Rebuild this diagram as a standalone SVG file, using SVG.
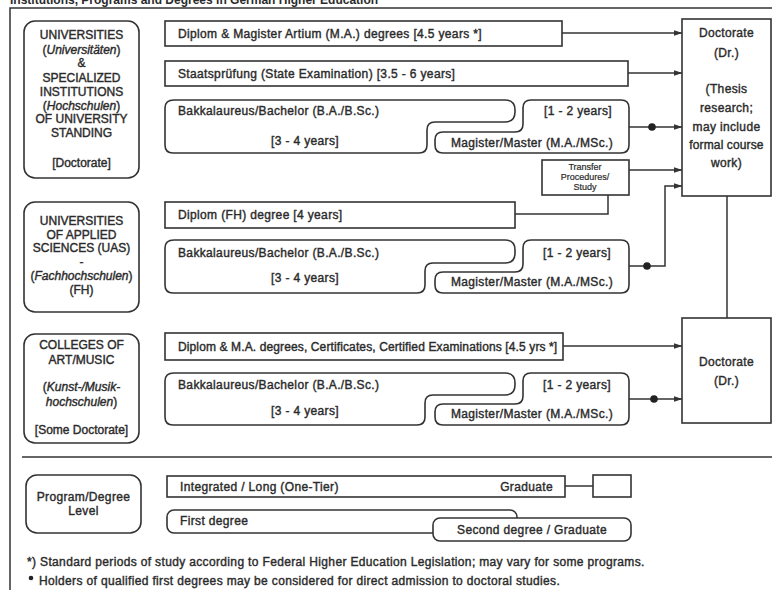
<svg xmlns="http://www.w3.org/2000/svg" width="772" height="590" viewBox="0 0 772 590">
<style>
text{font-family:"Liberation Sans",Arial,sans-serif;font-size:12px;letter-spacing:0.35px;fill:#2b2b2b;stroke:#2b2b2b;stroke-width:0.4}
.c{text-anchor:middle}
.e{text-anchor:end}
.i{font-style:italic}
.u{letter-spacing:0}
.n{letter-spacing:0.12px}
.s{font-size:9px;letter-spacing:0;stroke-width:0.2}
.t{font-size:12px;font-weight:bold;letter-spacing:0;stroke-width:0}
.box{fill:#fff;stroke:#333;stroke-width:1.6}
.ln{fill:none;stroke:#333;stroke-width:1.5}
.arr{fill:none;stroke:#333;stroke-width:1.5;marker-end:url(#ah)}
.dot{fill:#222}
</style>
<defs>
<marker id="ah" markerWidth="9" markerHeight="7" refX="8.5" refY="3.5" orient="auto" markerUnits="userSpaceOnUse">
<path d="M0,0.5 L9,3.5 L0,6.5 Z" fill="#333"/>
</marker>
</defs>
<rect x="0" y="0" width="772" height="590" fill="#fff"/>
<text class="t" x="10" y="4">Institutions, Programs and Degrees in German Higher Education</text>
<path class="ln" d="M10,590 V8 H772"/>
<line class="ln" x1="22" y1="457" x2="772" y2="457"/>

<g id="connectors">
<line class="arr" x1="562" y1="33" x2="682" y2="33"/>
<line class="arr" x1="628" y1="73" x2="682" y2="73"/>
<line class="arr" x1="629" y1="127" x2="682" y2="127"/>
<circle class="dot" cx="652" cy="127" r="3.8"/>
<line class="arr" x1="629" y1="170" x2="682" y2="170"/>
<path class="ln" d="M608,195 V214 H515"/>
<path class="arr" d="M629,266 H665 V186 H682"/>
<circle class="dot" cx="647" cy="266" r="3.8"/>
<line class="ln" x1="727" y1="196" x2="727" y2="318"/>
<line class="arr" x1="563" y1="346" x2="682" y2="346"/>
<line class="arr" x1="629" y1="399" x2="682" y2="399"/>
<circle class="dot" cx="654" cy="399" r="3.8"/>
<line class="ln" x1="565" y1="486" x2="593" y2="486"/>
</g>

<g id="inst-universities">
<rect class="box" x="24" y="21" width="115" height="157" rx="11"/>
<text class="c u" x="81.5" y="39">UNIVERSITIES</text>
<text class="c u" x="81.5" y="54">(<tspan class="i">Universitäten</tspan>)</text>
<text class="c u" x="81.5" y="67">&amp;</text>
<text class="c u" x="81.5" y="82">SPECIALIZED</text>
<text class="c u" x="81.5" y="96">INSTITUTIONS</text>
<text class="c u" x="81.5" y="110">(<tspan class="i">Hochschulen</tspan>)</text>
<text class="c u" x="81.5" y="123">OF UNIVERSITY</text>
<text class="c u" x="81.5" y="137">STANDING</text>
<text class="c u" x="81.5" y="167">[Doctorate]</text>
</g>

<g id="diplom-ma">
<rect class="box" x="165" y="21" width="397" height="25"/>
<text x="178" y="38">Diplom &amp; Magister Artium (M.A.) degrees [4.5 years *]</text>
</g>
<g id="staats">
<rect class="box" x="165" y="61" width="463" height="25"/>
<text x="178" y="78">Staatsprüfung (State Examination) [3.5 - 6 years]</text>
</g>
<g id="bachelor-1">
<path class="box" d="M174,100 H505 Q515,100 515,110 V112 Q515,122 505,122 H435 Q427,122 427,130 V145 Q427,153 419,153 H173 Q165,153 165,145 V108 Q165,100 174,100 Z"/>
<text x="178" y="115">Bakkalaureus/Bachelor (B.A./B.Sc.)</text>
<text class="c" x="305" y="145">[3 - 4 years]</text>
</g>
<g id="master-1">
<path class="box" d="M531,100 H621 Q629,100 629,108 V145 Q629,153 621,153 H443 Q435,153 435,145 V140 Q435,132 443,132 H515 Q523,132 523,124 V108 Q523,100 531,100 Z"/>
<text class="c" x="578" y="115">[1 - 2 years]</text>
<text class="c" x="532" y="147">Magister/Master (M.A./MSc.)</text>
</g>
<g id="transfer">
<rect class="box" x="542" y="160" width="87" height="35"/>
<text class="c s" x="585" y="170">Transfer</text>
<text class="c s" x="585" y="180">Procedures/</text>
<text class="c s" x="585" y="190">Study</text>
</g>
<g id="doctorate-1">
<rect class="box" x="682" y="19" width="89" height="177"/>
<text class="c" x="726.5" y="37">Doctorate</text>
<text class="c" x="726.5" y="57">(Dr.)</text>
<text class="c" x="726.5" y="93">(Thesis</text>
<text class="c" x="726.5" y="112">research;</text>
<text class="c" x="726.5" y="131">may include</text>
<text class="c n" x="726.5" y="149">formal course</text>
<text class="c" x="726.5" y="167">work)</text>
</g>

<g id="inst-uas">
<rect class="box" x="24" y="202" width="115" height="110" rx="11"/>
<text class="c u" x="81.5" y="225">UNIVERSITIES</text>
<text class="c u" x="81.5" y="239">OF APPLIED</text>
<text class="c u" x="81.5" y="252">SCIENCES (UAS)</text>
<text class="c u" x="81.5" y="266">-</text>
<text class="c u" x="81.5" y="280">(<tspan class="i">Fachhochschulen</tspan>)</text>
<text class="c u" x="81.5" y="294">(FH)</text>
</g>
<g id="diplom-fh">
<rect class="box" x="165" y="202" width="350" height="26"/>
<text x="178" y="219">Diplom (FH) degree [4 years]</text>
</g>
<g id="bachelor-2">
<path class="box" d="M174,240 H505 Q515,240 515,250 V253 Q515,263 505,263 H433 Q425,263 425,271 V285 Q425,293 417,293 H173 Q165,293 165,285 V248 Q165,240 174,240 Z"/>
<text x="178" y="257">Bakkalaureus/Bachelor (B.A./B.Sc.)</text>
<text class="c" x="305" y="282">[3 - 4 years]</text>
</g>
<g id="master-2">
<path class="box" d="M531,240 H621 Q629,240 629,248 V285 Q629,293 621,293 H443 Q435,293 435,285 V280 Q435,272 443,272 H515 Q523,272 523,264 V248 Q523,240 531,240 Z"/>
<text class="c" x="577" y="257">[1 - 2 years]</text>
<text class="c" x="532" y="286">Magister/Master (M.A./MSc.)</text>
</g>

<g id="inst-colleges">
<rect class="box" x="24" y="334" width="115" height="109" rx="11"/>
<text class="c u" x="81.5" y="349">COLLEGES OF</text>
<text class="c u" x="81.5" y="364">ART/MUSIC</text>
<text class="c u" x="81.5" y="391">(<tspan class="i">Kunst-/Musik-</tspan></text>
<text class="c u" x="81.5" y="406"><tspan class="i">hochschulen</tspan>)</text>
<text class="c u" x="81.5" y="434">[Some Doctorate]</text>
</g>
<g id="diplom-art">
<rect class="box" x="165" y="333" width="398" height="27"/>
<text class="n" x="178" y="351">Diplom &amp; M.A. degrees, Certificates, Certified Examinations [4.5 yrs *]</text>
</g>
<g id="bachelor-3">
<path class="box" d="M174,373 H505 Q515,373 515,383 V385 Q515,395 505,395 H433 Q425,395 425,403 V417 Q425,425 417,425 H173 Q165,425 165,417 V381 Q165,373 174,373 Z"/>
<text x="178" y="389">Bakkalaureus/Bachelor (B.A./B.Sc.)</text>
<text class="c" x="305" y="415">[3 - 4 years]</text>
</g>
<g id="master-3">
<path class="box" d="M531,373 H621 Q629,373 629,381 V417 Q629,425 621,425 H443 Q435,425 435,417 V412 Q435,404 443,404 H515 Q523,404 523,396 V381 Q523,373 531,373 Z"/>
<text class="c" x="577" y="389">[1 - 2 years]</text>
<text class="c" x="532" y="418">Magister/Master (M.A./MSc.)</text>
</g>
<g id="doctorate-2">
<rect class="box" x="682" y="318" width="89" height="105"/>
<text class="c" x="726.5" y="366">Doctorate</text>
<text class="c" x="726.5" y="385">(Dr.)</text>
</g>

<g id="legend-level">
<rect class="box" x="26" y="475" width="115" height="58" rx="11"/>
<text class="c" x="83.5" y="501">Program/Degree</text>
<text class="c" x="83.5" y="515">Level</text>
</g>
<g id="legend-integrated">
<rect class="box" x="167" y="476" width="398" height="21"/>
<text x="180" y="491">Integrated / Long (One-Tier)</text>
<text class="e" x="553" y="491">Graduate</text>
</g>
<g id="legend-doctorate">
<rect class="box" x="593" y="475" width="38" height="22"/>
</g>
<g id="legend-first">
<rect class="box" x="167" y="510" width="350" height="23" rx="7"/>
<text x="180" y="525">First degree</text>
</g>
<g id="legend-second">
<rect class="box" x="433" y="518" width="198" height="23" rx="7"/>
<text class="c" x="532" y="534">Second degree / Graduate</text>
</g>

<g id="footnotes">
<text x="27" y="566">*) Standard periods of study according to Federal Higher Education Legislation; may vary for some programs.</text>
<circle class="dot" cx="31" cy="578" r="2.3"/>
<text x="39" y="585">Holders of qualified first degrees may be considered for direct admission to doctoral studies.</text>
</g>
</svg>
